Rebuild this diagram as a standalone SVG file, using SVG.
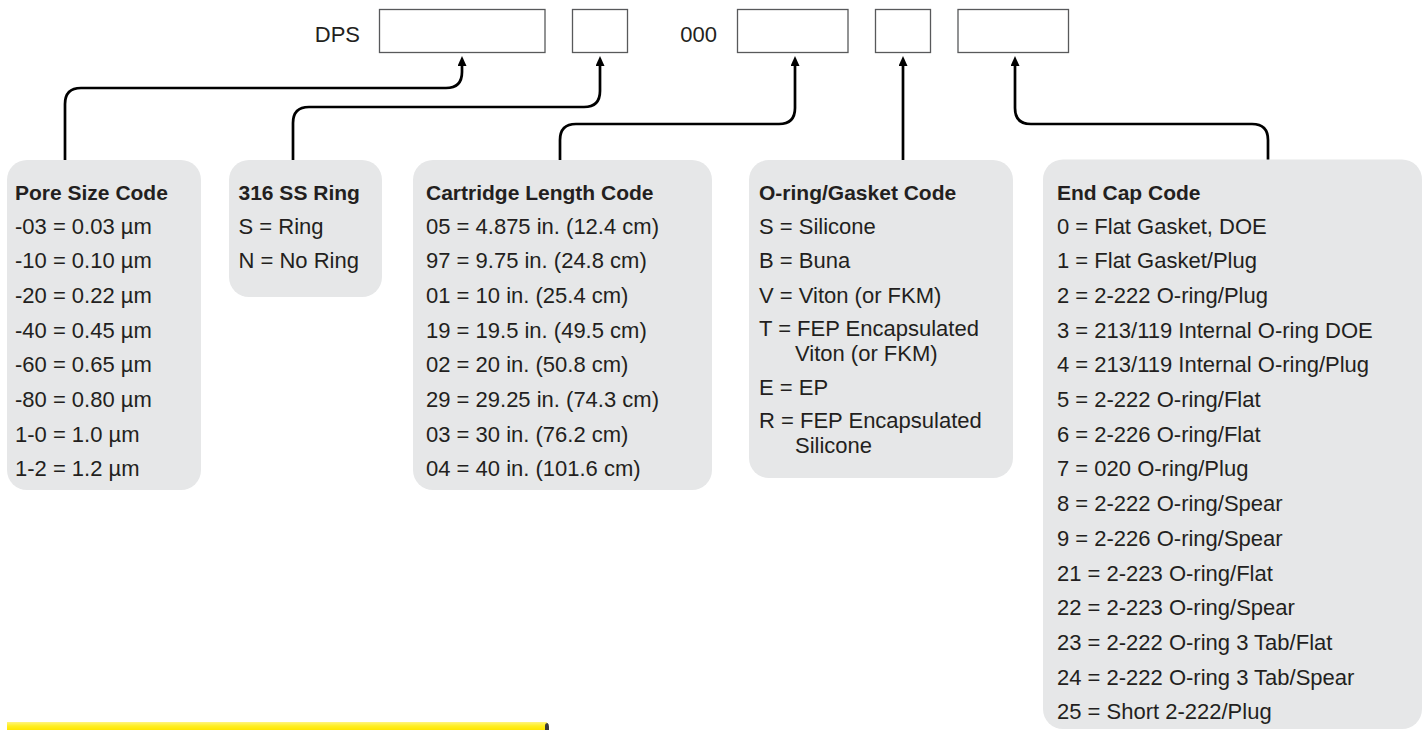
<svg xmlns="http://www.w3.org/2000/svg" width="1427" height="730" viewBox="0 0 1427 730">
<defs>
<style>
.t{font-family:"Liberation Sans",Arial,sans-serif;font-size:22px;fill:#231f20}
.h{font-family:"Liberation Sans",Arial,sans-serif;font-size:21px;font-weight:bold;fill:#231f20}
.panel{fill:#e6e7e8}
.slot{fill:#ffffff;stroke:#58595b;stroke-width:1.3}
.conn{fill:none;stroke:#000000;stroke-width:2.7;marker-end:url(#arr)}
</style>
<marker id="arr" viewBox="0 0 10 9" markerUnits="userSpaceOnUse" markerWidth="10" markerHeight="9" refX="4" refY="4.5" orient="auto">
<path d="M0,0 L10,4.5 L0,9 Z" fill="#000000"/>
</marker>
<linearGradient id="yel" x1="0" y1="0" x2="0" y2="1">
<stop offset="0" stop-color="#fff47e"/>
<stop offset="0.5" stop-color="#ffee22"/>
<stop offset="1" stop-color="#ffe600"/>
</linearGradient>
</defs>
<rect width="1427" height="730" fill="#ffffff"/>

<g id="code-header">
<text class="t" x="360" y="42" text-anchor="end">DPS</text>
<rect class="slot" x="379.5" y="9.5" width="165.5" height="43"/>
<rect class="slot" x="572.5" y="9.5" width="55" height="43"/>
<text class="t" x="717" y="42" text-anchor="end">000</text>
<rect class="slot" x="737.5" y="9.5" width="110.5" height="43"/>
<rect class="slot" x="875.5" y="9.5" width="55" height="43"/>
<rect class="slot" x="958" y="9.5" width="110.5" height="43"/>
</g>

<g id="connectors">
<path class="conn" d="M65,160 V104 Q65,88 81,88 H446 Q462,88 462,72 V62"/>
<path class="conn" d="M293,160 V123 Q293,107 309,107 H584 Q600,107 600,91 V62"/>
<path class="conn" d="M560,160 V140 Q560,124 576,124 H779 Q795,124 795,108 V62"/>
<path class="conn" d="M903,160 V62"/>
<path class="conn" d="M1268,160 V140 Q1268,124 1252,124 H1031 Q1015,124 1015,108 V62"/>
</g>

<g id="pore-size">
<rect class="panel" x="7" y="160" width="194" height="330" rx="20"/>
<text class="h" x="15" y="200">Pore Size Code</text>
<text class="t" x="15" y="233.5">-03 = 0.03 µm</text>
<text class="t" x="15" y="268.2">-10 = 0.10 µm</text>
<text class="t" x="15" y="302.9">-20 = 0.22 µm</text>
<text class="t" x="15" y="337.6">-40 = 0.45 µm</text>
<text class="t" x="15" y="372.3">-60 = 0.65 µm</text>
<text class="t" x="15" y="407">-80 = 0.80 µm</text>
<text class="t" x="15" y="441.7">1-0 = 1.0 µm</text>
<text class="t" x="15" y="476.4">1-2 = 1.2 µm</text>
</g>

<g id="ss-ring">
<rect class="panel" x="229" y="160" width="153" height="137" rx="20"/>
<text class="h" x="238.5" y="200">316 SS Ring</text>
<text class="t" x="238.5" y="233.5">S = Ring</text>
<text class="t" x="238.5" y="268.2">N = No Ring</text>
</g>

<g id="cartridge-length">
<rect class="panel" x="413" y="160" width="299" height="330" rx="20"/>
<text class="h" x="426" y="200">Cartridge Length Code</text>
<text class="t" x="426" y="233.5">05 = 4.875 in. (12.4 cm)</text>
<text class="t" x="426" y="268.2">97 = 9.75 in. (24.8 cm)</text>
<text class="t" x="426" y="302.9">01 = 10 in. (25.4 cm)</text>
<text class="t" x="426" y="337.6">19 = 19.5 in. (49.5 cm)</text>
<text class="t" x="426" y="372.3">02 = 20 in. (50.8 cm)</text>
<text class="t" x="426" y="407">29 = 29.25 in. (74.3 cm)</text>
<text class="t" x="426" y="441.7">03 = 30 in. (76.2 cm)</text>
<text class="t" x="426" y="476.4">04 = 40 in. (101.6 cm)</text>
</g>

<g id="oring-gasket">
<rect class="panel" x="749" y="160" width="264" height="318" rx="20"/>
<text class="h" x="759" y="200">O-ring/Gasket Code</text>
<text class="t" x="759" y="233.5">S = Silicone</text>
<text class="t" x="759" y="268.2">B = Buna</text>
<text class="t" x="759" y="302.9">V = Viton (or FKM)</text>
<text class="t" x="759" y="336">T = FEP Encapsulated</text>
<text class="t" x="795" y="361">Viton (or FKM)</text>
<text class="t" x="759" y="395">E = EP</text>
<text class="t" x="759" y="428">R = FEP Encapsulated</text>
<text class="t" x="795" y="453">Silicone</text>
</g>

<g id="end-cap">
<rect class="panel" x="1043" y="159.5" width="379" height="569.5" rx="20"/>
<text class="h" x="1057" y="200">End Cap Code</text>
<text class="t" x="1057" y="233.5">0 = Flat Gasket, DOE</text>
<text class="t" x="1057" y="268.2">1 = Flat Gasket/Plug</text>
<text class="t" x="1057" y="302.9">2 = 2-222 O-ring/Plug</text>
<text class="t" x="1057" y="337.6">3 = 213/119 Internal O-ring DOE</text>
<text class="t" x="1057" y="372.3">4 = 213/119 Internal O-ring/Plug</text>
<text class="t" x="1057" y="407">5 = 2-222 O-ring/Flat</text>
<text class="t" x="1057" y="441.7">6 = 2-226 O-ring/Flat</text>
<text class="t" x="1057" y="476.4">7 = 020 O-ring/Plug</text>
<text class="t" x="1057" y="511.1">8 = 2-222 O-ring/Spear</text>
<text class="t" x="1057" y="545.8">9 = 2-226 O-ring/Spear</text>
<text class="t" x="1057" y="580.5">21 = 2-223 O-ring/Flat</text>
<text class="t" x="1057" y="615.2">22 = 2-223 O-ring/Spear</text>
<text class="t" x="1057" y="649.9">23 = 2-222 O-ring 3 Tab/Flat</text>
<text class="t" x="1057" y="684.6">24 = 2-222 O-ring 3 Tab/Spear</text>
<text class="t" x="1057" y="719.3">25 = Short 2-222/Plug</text>
</g>

<g id="yellow-bar">
<rect x="7" y="722" width="540" height="8" fill="url(#yel)"/>
<path d="M545,730 V726 Q545,723 547.5,723 Q549,724 549,727 V730 Z" fill="#3a3a3a"/>
</g>
</svg>
